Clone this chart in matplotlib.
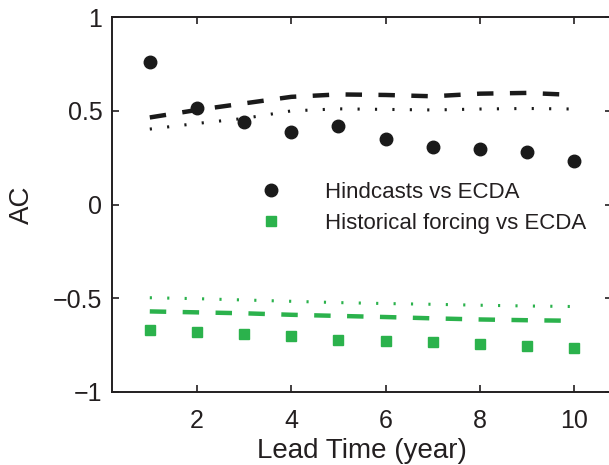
import matplotlib.pyplot as plt

plt.rcParams['font.family'] = ['Liberation Sans', 'DejaVu Sans']

lead = [1, 2, 3, 4, 5, 6, 7, 8, 9, 10]

# black: hindcasts vs ECDA
hind_ac = [0.76, 0.514, 0.44, 0.39, 0.417, 0.35, 0.31, 0.295, 0.28, 0.235]
hind_dash = [0.465, 0.505, 0.54, 0.575, 0.588, 0.585, 0.578, 0.592, 0.596, 0.585]
hind_dot = [0.403, 0.433, 0.46, 0.50, 0.511, 0.508, 0.505, 0.51, 0.513, 0.51]

# green: historical forcing vs ECDA
hist_ac = [-0.668, -0.678, -0.692, -0.703, -0.723, -0.728, -0.735, -0.744, -0.756, -0.764]
hist_dash = [-0.57, -0.575, -0.58, -0.588, -0.594, -0.60, -0.607, -0.613, -0.617, -0.62]
hist_dot = [-0.497, -0.502, -0.509, -0.516, -0.523, -0.528, -0.532, -0.537, -0.541, -0.544]

green = '#2bb24c'
black = '#1a1a1a'
txt = '#231f20'

fig = plt.figure(figsize=(6.09, 4.65), dpi=100)
ax = fig.add_axes([0.184, 0.157, 0.821, 0.806])

ax.plot(lead, hind_dash, color=black, lw=3.2, dashes=(3.7, 3.7))
ax.plot(lead, hind_dot, color=black, lw=2.2, dashes=(0.7, 5.0))
ax.plot(lead, hist_dash, color=green, lw=3.2, dashes=(3.7, 3.7))
ax.plot(lead, hist_dot, color=green, lw=2.2, dashes=(0.7, 5.0))

ax.plot(lead, hind_ac, 'o', color=black, ms=9, label='Hindcasts vs ECDA')
ax.plot(lead, hist_ac, 's', color=green, ms=7.2, label='Historical forcing vs ECDA')

ax.set_xlim(0.2, 10.8)
ax.set_ylim(-1, 1)
ax.set_xticks([2, 4, 6, 8, 10])
ax.set_yticks([-1, -0.5, 0, 0.5, 1])
ax.set_yticklabels(['\u22121', '\u22120.5', '0', '0.5', '1'])
ax.tick_params(direction='in', length=5, width=1.2, labelsize=18,
               top=True, right=True, colors=txt)
ax.tick_params(axis='x', pad=12)
ax.tick_params(axis='y', pad=7)
for s in ax.spines.values():
    s.set_linewidth(1.4)
    s.set_color(txt)

ax.set_xlabel('Lead Time (year)', fontsize=20, color=txt, labelpad=4)
ax.set_ylabel('AC', fontsize=20, color=txt, labelpad=13)

ax.legend(loc='upper left', bbox_to_anchor=(249 / 609, 1 - 182 / 465),
          bbox_transform=fig.transFigure, frameon=False, numpoints=1,
          fontsize=16, handlelength=2, handletextpad=1.4, borderpad=0,
          borderaxespad=0, labelspacing=0.45, labelcolor=txt)

fig.savefig('out.png', dpi=100)
